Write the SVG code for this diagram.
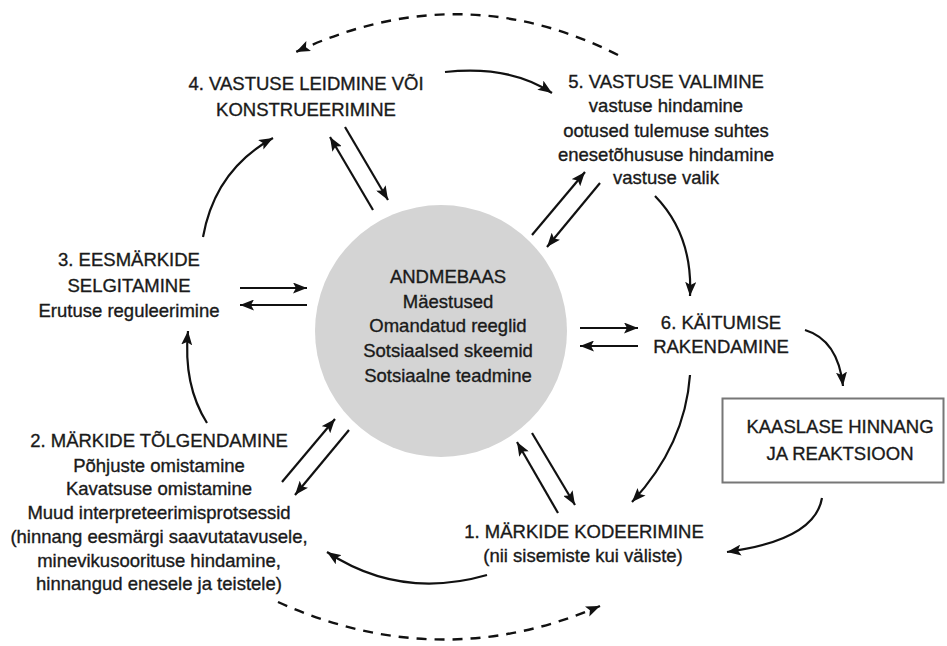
<svg xmlns="http://www.w3.org/2000/svg" width="947" height="646" viewBox="0 0 947 646">
<defs>
<marker id="ah" markerUnits="userSpaceOnUse" markerWidth="15" markerHeight="11" viewBox="0 0 15 11" refX="14" refY="5.5" orient="auto">
<path d="M0,0 L14,5.5 L0,11 L3,5.5 z" fill="#111"/>
</marker>
<style>
text{font-family:"Liberation Sans",Arial,sans-serif;font-size:18.5px;fill:#1a1a1a;stroke:#1a1a1a;stroke-width:0.35;text-anchor:middle}
.c{fill:none;stroke:#111;stroke-width:2.2;marker-end:url(#ah)}
.d{stroke-dasharray:10 8;stroke-width:2.4}
</style>
</defs>
<rect width="947" height="646" fill="#fff"/>
<g id="connectors">
<path class="c d" d="M618,55 Q460,-25 296,52"/>
<path class="c d" d="M278,602 Q440,675 600,606"/>
<path class="c" d="M445,72 Q510,65 552,93"/>
<path class="c" d="M655,196 Q693,235 690,296"/>
<path class="c" d="M805,330 Q838,340 843,386"/>
<path class="c" d="M822,498 Q815,540 727,552"/>
<path class="c" d="M690,375 Q685,445 632,502"/>
<path class="c" d="M487,575 Q400,600 327,552"/>
<path class="c" d="M207,423 Q183,385 188,331"/>
<path class="c" d="M203,237 Q215,170 273,138"/>
<path class="c" d="M345,127 L388,200"/>
<path class="c" d="M373,210 L330,137"/>
<path class="c" d="M532,235 L585,172"/>
<path class="c" d="M600,183 L547,247"/>
<path class="c" d="M240,288 L307,288"/>
<path class="c" d="M307,305 L240,305"/>
<path class="c" d="M580,328 L638,328"/>
<path class="c" d="M638,346 L580,346"/>
<path class="c" d="M282,482 L335,419"/>
<path class="c" d="M349,430 L295,495"/>
<path class="c" d="M558,513 L517,442"/>
<path class="c" d="M532,433 L575,505"/>
</g>
<g id="andmebaas">
<circle cx="441" cy="331" r="126" fill="#d4d4d4"/>
<text x="448" y="283">ANDMEBAAS</text>
<text x="448" y="308">Mäestused</text>
<text x="448" y="332">Omandatud reeglid</text>
<text x="448" y="357">Sotsiaalsed skeemid</text>
<text x="448" y="382">Sotsiaalne teadmine</text>
</g>
<g id="node4">
<text x="306" y="90">4. VASTUSE LEIDMINE VÕI</text>
<text x="306" y="116">KONSTRUEERIMINE</text>
</g>
<g id="node5">
<text x="666" y="88">5. VASTUSE VALIMINE</text>
<text x="666" y="112">vastuse hindamine</text>
<text x="666" y="137">ootused tulemuse suhtes</text>
<text x="666" y="161">enesetõhususe hindamine</text>
<text x="666" y="184">vastuse valik</text>
</g>
<g id="node3">
<text x="129" y="266">3. EESMÄRKIDE</text>
<text x="129" y="292">SELGITAMINE</text>
<text x="129" y="317">Erutuse reguleerimine</text>
</g>
<g id="node6">
<text x="721" y="329">6. KÄITUMISE</text>
<text x="721" y="353">RAKENDAMINE</text>
</g>
<g id="node2">
<text x="159" y="447">2. MÄRKIDE TÕLGENDAMINE</text>
<text x="159" y="472">Põhjuste omistamine</text>
<text x="159" y="495">Kavatsuse omistamine</text>
<text x="159" y="519">Muud interpreteerimisprotsessid</text>
<text x="159" y="543">(hinnang eesmärgi saavutatavusele,</text>
<text x="159" y="567">minevikusoorituse hindamine,</text>
<text x="159" y="590">hinnangud enesele ja teistele)</text>
</g>
<g id="node1">
<text x="584" y="538">1. MÄRKIDE KODEERIMINE</text>
<text x="583" y="562">(nii sisemiste kui väliste)</text>
</g>
<g id="kaaslane">
<rect x="722.5" y="398.5" width="221" height="84" fill="#fff" stroke="#777" stroke-width="2"/>
<text x="840" y="433">KAASLASE HINNANG</text>
<text x="840" y="460">JA REAKTSIOON</text>
</g>
</svg>
